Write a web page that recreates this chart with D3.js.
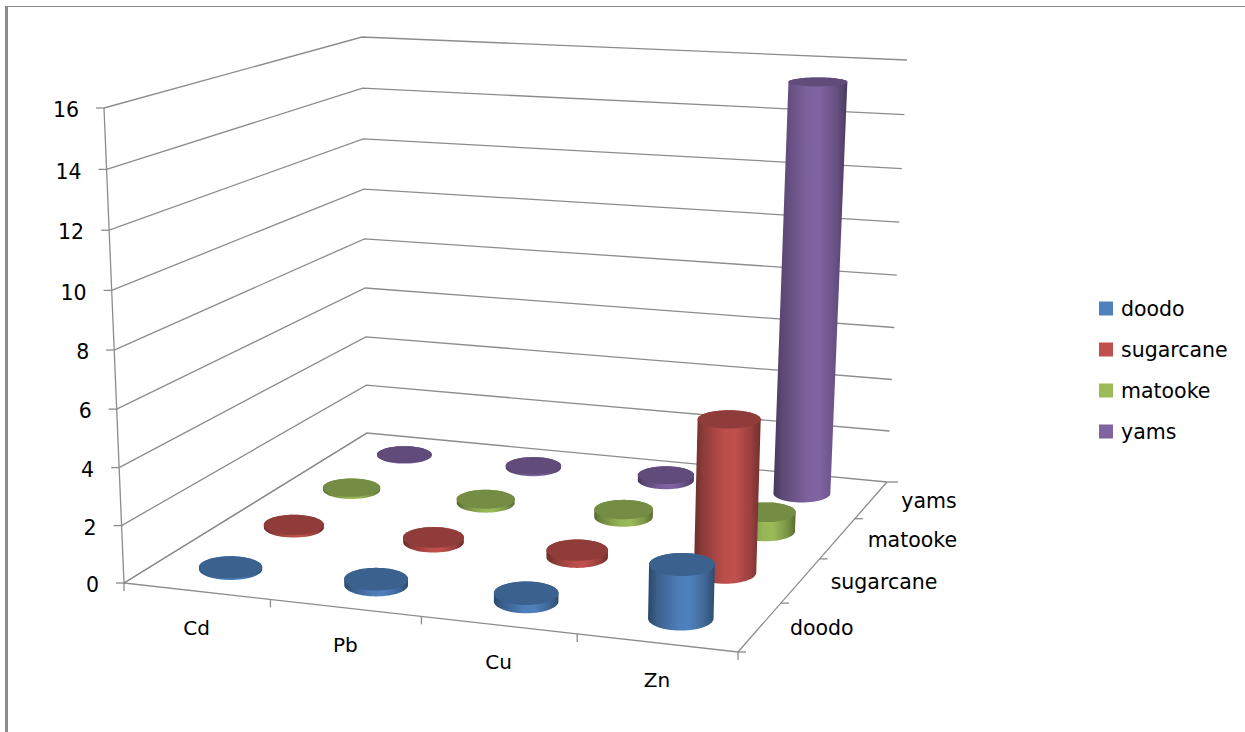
<!DOCTYPE html>
<html>
<head>
<meta charset="utf-8">
<script src="https://cdn.jsdelivr.net/npm/d3@7"></script>
<style>
  html, body { margin: 0; padding: 0; background: #fff; }
  text { font-family: "DejaVu Sans", sans-serif; fill: #000; }
</style>
</head>
<body>
<div id="chart"></div>
<script>
const categories = ['Cd', 'Pb', 'Cu', 'Zn'];
const seriesNames = ['doodo', 'sugarcane', 'matooke', 'yams'];
const doodo = [0.06, 0.2, 0.28, 1.8];
const sugarcane = [0.1, 0.17, 0.25, 5.35];
const matooke = [0.08, 0.15, 0.28, 0.7];
const yams = [0.02, 0.07, 0.2, 15.4];
const yTicks = [0, 2, 4, 6, 8, 10, 12, 14, 16];
const seriesColors = ['#4F81BD', '#C0504D', '#9BBB59', '#8064A2'];
const seriesValues = [doodo, sugarcane, matooke, yams];

const width = 1245, height = 732;
const gridColor = '#8c8c8c';
const radius = 0.05;

const svg = d3.select('#chart').append('svg').attr('width', width).attr('height', height);
const defs = svg.append('defs');

// the plot box as seen on screen: front-left, front-right, back-right, back-left
const floorCorners = [[124, 583], [738, 652], [887, 482], [367, 433]];
const topCorners = [[104, 108], [750, 139], [907, 60], [362, 37]];

// unit square -> quad, so category and series spacing get the perspective for free
function homography(q) {
  const [[x0, y0], [x1, y1], [x2, y2], [x3, y3]] = q;
  const dx1 = x1 - x2, dx2 = x3 - x2, sx = x0 - x1 + x2 - x3;
  const dy1 = y1 - y2, dy2 = y3 - y2, sy = y0 - y1 + y2 - y3;
  const den = dx1 * dy2 - dx2 * dy1;
  const g = (sx * dy2 - dx2 * sy) / den;
  const h = (dx1 * sy - sx * dy1) / den;
  const a = x1 - x0 + g * x1, b = x3 - x0 + h * x3;
  const d = y1 - y0 + g * y1, e = y3 - y0 + h * y3;
  return (u, v) => {
    const w = g * u + h * v + 1;
    return [(a * u + b * v + x0) / w, (d * u + e * v + y0) / w];
  };
}
const floorAt = homography(floorCorners);
const topAt = homography(topCorners);

const uScale = d3.scaleBand().domain(categories).range([0, 1]);
const vScale = d3.scaleBand().domain(seriesNames).range([0, 1]);
const zScale = d3.scaleLinear().domain([0, 16]).range([0, 1]);

function project(u, v, value) {
  const t = zScale(value);
  const s = t / (t + (1 - t) * 1.039); // gridlines get a little wider toward the top
  const a = floorAt(u, v), b = topAt(u, v);
  return [a[0] + (b[0] - a[0]) * s, a[1] + (b[1] - a[1]) * s];
}

const line = d3.line();
const circleSteps = d3.range(0, 60).map((i) => (i / 60) * Math.PI * 2);
// size the ellipse from the projected circle but keep it level, like the Excel render
function ring(u, v, value) {
  const pts = circleSteps.map((t) => project(u + radius * Math.cos(t), v + radius * Math.sin(t), value));
  const [x0, x1] = d3.extent(pts, (p) => p[0]);
  const [y0, y1] = d3.extent(pts, (p) => p[1]);
  const cx = (x0 + x1) / 2, cy = (y0 + y1) / 2;
  const rx = (x1 - x0) / 2, ry = ((y1 - y0) / 2) * 1.2;
  return circleSteps.map((t) => [cx + rx * Math.cos(t), cy + ry * Math.sin(t)]);
}

// frame of the pasted picture
svg.append('rect').attr('x', 5).attr('y', 6).attr('width', 3).attr('height', height - 6).attr('fill', gridColor);
svg.append('rect').attr('x', 5).attr('y', 6).attr('width', width - 5).attr('height', 1).attr('fill', gridColor);

// walls
const grid = svg.append('g').attr('fill', 'none').attr('stroke', gridColor).attr('stroke-width', 1.3);
yTicks.forEach((tick) => {
  grid.append('path').attr('d', line([project(0, 0, tick), project(0, 1, tick), project(1, 1, tick)]));
  const [x, y] = project(0, 0, tick);
  grid.append('path').attr('d', line([[x - 8, y], [x, y]]));
  svg.append('text').attr('x', x - 25).attr('y', y + 2).attr('dy', '0.35em')
    .attr('text-anchor', 'end').attr('font-size', 20.5).text(tick);
});
grid.append('path').attr('d', line([project(0, 0, 0), project(0, 0, 16)]));

// floor edges and ticks
grid.append('path').attr('d', line([project(0, 1, 0), project(0, 0, 0), project(1, 0, 0), project(1, 1, 0)]));
d3.range(0, 5).forEach((i) => {
  const [x, y] = project(i / 4, 0, 0);
  grid.append('path').attr('d', line([[x, y], [x, y + 8]]));
  const [rx, ry] = project(1, i / 4, 0);
  grid.append('path').attr('d', line([[rx, ry], [rx + (i === 4 ? 11 : 8), ry]]));
});

categories.forEach((name) => {
  const [x, y] = project(uScale(name) + uScale.bandwidth() / 2, 0, 0);
  svg.append('text').attr('x', x).attr('y', y + 37).attr('dy', '0.35em')
    .attr('text-anchor', 'middle').attr('font-size', 20).text(name);
});
seriesNames.forEach((name) => {
  const [x, y] = project(1, vScale(name) + vScale.bandwidth() / 2, 0);
  svg.append('text').attr('x', x + 30).attr('y', y + 1).attr('dy', '0.35em')
    .attr('font-size', 20.5).text(name);
});

// shading across the cylinder body
seriesNames.forEach((name, i) => {
  const base = d3.color(seriesColors[i]);
  const grad = defs.append('linearGradient').attr('id', `body-${i}`);
  [[0, 0.55], [0.12, 0.72], [0.45, 0.97], [0.62, 1], [0.85, 0.8], [1, 0.58]].forEach(([offset, k]) => {
    grad.append('stop').attr('offset', offset)
      .attr('stop-color', d3.rgb(base.r * k, base.g * k, base.b * k).formatHex());
  });
});

// back row first, the front cylinders hide the ones behind them
const marks = svg.append('g');
d3.range(seriesNames.length - 1, -1, -1).forEach((s) => {
  const v = vScale(seriesNames[s]) + vScale.bandwidth() / 2;
  categories.forEach((name, c) => {
    const u = uScale(name) + uScale.bandwidth() / 2;
    const value = seriesValues[s][c];
    const topRing = ring(u, v, value);
    const hull = d3.polygonHull(ring(u, v, 0).concat(topRing));
    marks.append('path').attr('d', line(hull) + 'Z').attr('fill', `url(#body-${s})`);
    const base = d3.color(seriesColors[s]);
    marks.append('path').attr('d', line(topRing) + 'Z')
      .attr('fill', d3.rgb(base.r * 0.75, base.g * 0.75, base.b * 0.75).formatHex());
  });
});

// legend
const legendY = d3.scalePoint().domain(seriesNames).range([308.5, 431.5]);
seriesNames.forEach((name, i) => {
  svg.append('rect').attr('x', 1099).attr('y', legendY(name) - 7).attr('width', 14).attr('height', 14)
    .attr('fill', seriesColors[i]);
  svg.append('text').attr('x', 1121).attr('y', legendY(name)).attr('dy', '0.35em')
    .attr('font-size', 20.5).text(name);
});
</script>
</body>
</html>
